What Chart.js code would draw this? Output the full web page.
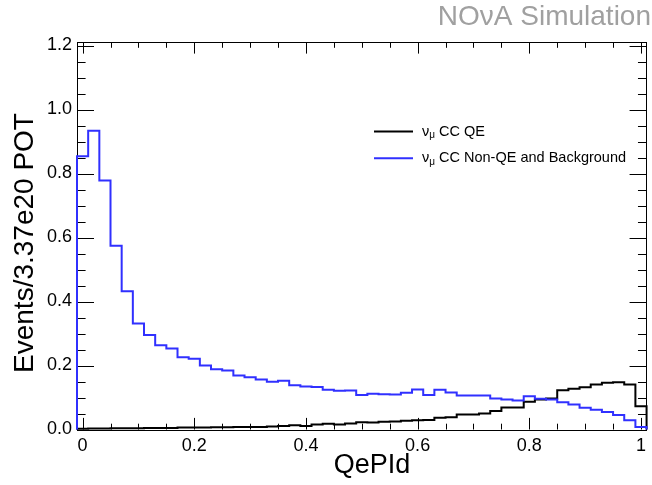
<!DOCTYPE html>
<html><head><meta charset="utf-8">
<script src="https://cdn.jsdelivr.net/npm/chart.js@4.4.0/dist/chart.umd.min.js"></script>
<style>html,body{margin:0;padding:0;background:#fff;overflow:hidden}canvas{display:block}</style>
</head><body>
<canvas id="c" width="652" height="485"></canvas>
<script>
const binCenters = [0.00,0.02,0.04,0.06,0.08,0.10,0.12,0.14,0.16,0.18,0.20,0.22,0.24,0.26,0.28,0.30,0.32,0.34,0.36,0.38,0.40,0.42,0.44,0.46,0.48,0.50,0.52,0.54,0.56,0.58,0.60,0.62,0.64,0.66,0.68,0.70,0.72,0.74,0.76,0.78,0.80,0.82,0.84,0.86,0.88,0.90,0.92,0.94,0.96,0.98,1.00];
const binWidth = 0.02;
const qeValues = [0.002,0.003,0.003,0.004,0.004,0.004,0.005,0.005,0.005,0.006,0.006,0.006,0.007,0.007,0.008,0.008,0.008,0.009,0.011,0.013,0.011,0.016,0.018,0.016,0.019,0.023,0.022,0.024,0.025,0.027,0.029,0.030,0.037,0.038,0.047,0.047,0.050,0.058,0.069,0.069,0.087,0.094,0.097,0.123,0.127,0.132,0.141,0.146,0.148,0.141,0.073];
const nonQeValues = [0.854,0.934,0.778,0.574,0.432,0.331,0.295,0.263,0.253,0.226,0.221,0.200,0.188,0.184,0.169,0.163,0.156,0.149,0.152,0.138,0.134,0.133,0.124,0.121,0.122,0.108,0.112,0.110,0.109,0.115,0.125,0.108,0.124,0.116,0.106,0.106,0.106,0.097,0.094,0.091,0.104,0.096,0.094,0.085,0.078,0.068,0.062,0.055,0.045,0.029,0.008];
const xTickValues = [0,0.2,0.4,0.6,0.8,1.0];
const xTickLabels = ['0','0.2','0.4','0.6','0.8','1'];
const yTickValues = [0,0.2,0.4,0.6,0.8,1.0,1.2];
const yTickLabels = ['0.0','0.2','0.4','0.6','0.8','1.0','1.2'];
const xTitle = 'QePId';
const yTitle = 'Events/3.37e20 POT';
const watermark = 'NO\u03bdA Simulation';
const seriesNames = [' CC QE',' CC Non-QE and Background'];
const seriesColors = ['#000000','#3030ff'];

const FONT = "'Liberation Sans', Arial, Helvetica, sans-serif";

function stepPoints(values){
  const pts=[];
  const lo0 = binCenters[0]-binWidth/2;
  pts.push({x:lo0,y:0});
  values.forEach((v,i)=>{
    const lo=binCenters[i]-binWidth/2, hi=binCenters[i]+binWidth/2;
    pts.push({x:lo,y:v}); pts.push({x:hi,y:v});
  });
  pts.push({x:binCenters[binCenters.length-1]+binWidth/2,y:0});
  return pts;
}

const framePlugin = {
  id:'frame',
  beforeDatasetsDraw(chart){
    const {ctx, chartArea:a, scales:{x,y}} = chart;
    ctx.save();
    ctx.strokeStyle='#000'; ctx.lineWidth=1;
    ctx.strokeRect(Math.round(a.left)+0.5, Math.round(a.top)+0.5, Math.round(a.right)-Math.round(a.left)-1, Math.round(a.bottom)-Math.round(a.top));
    ctx.beginPath();
    for(let k=0;k<=20;k++){
      const v=k*0.05; const px=Math.round(x.getPixelForValue(v))+0.5;
      const L = (k%4===0)?11.6:5.8;
      ctx.moveTo(px,a.bottom); ctx.lineTo(px,a.bottom-L);
      ctx.moveTo(px,a.top); ctx.lineTo(px,a.top+L);
    }
    for(let k=0;k<=24;k++){
      const v=k*0.05; const py=Math.round(y.getPixelForValue(v))+0.5;
      const L = (k%4===0)?17:8.6;
      ctx.moveTo(a.left,py); ctx.lineTo(a.left+L,py);
      ctx.moveTo(a.right,py); ctx.lineTo(a.right-L,py);
    }
    ctx.stroke();
    ctx.restore();
  },
  afterDraw(chart){
    const {ctx} = chart;
    ctx.save();
    ctx.fillStyle='#a0a0a0';
    ctx.font='28px '+FONT;
    ctx.textAlign='right'; ctx.textBaseline='middle';
    ctx.fillText(watermark, 651, 17);
    // axis titles
    ctx.fillStyle='#000';
    ctx.textAlign='center'; ctx.textBaseline='middle';
    ctx.font='27px '+FONT;
    ctx.fillText(xTitle, 372, 466);
    ctx.save();
    ctx.translate(25,243); ctx.rotate(-Math.PI/2);
    ctx.font='28px '+FONT;
    ctx.fillText(yTitle, 0, 0);
    ctx.restore();
    // legend
    const rows=[131.5,158.3];
    rows.forEach((ry,i)=>{
      ctx.strokeStyle=seriesColors[i]; ctx.lineWidth=2;
      ctx.beginPath(); ctx.moveTo(374,ry); ctx.lineTo(413,ry); ctx.stroke();
      ctx.fillStyle='#000'; ctx.textAlign='left'; ctx.textBaseline='middle';
      ctx.font='14.5px '+FONT;
      let tx=422;
      ctx.fillText('\u03bd',tx,ry); tx+=ctx.measureText('\u03bd').width;
      ctx.font='10px '+FONT;
      ctx.fillText('\u03bc',tx,ry+4); tx+=ctx.measureText('\u03bc').width;
      ctx.font='14.5px '+FONT;
      ctx.fillText(seriesNames[i],tx,ry);
    });
    ctx.restore();
  }
};

new Chart(document.getElementById('c'), {
  type:'line',
  data:{datasets:[
    {label:'QE', data:stepPoints(qeValues), borderColor:seriesColors[0], borderWidth:2, pointRadius:0, fill:false, tension:0, order:2, clip:false},
    {label:'NonQE', data:stepPoints(nonQeValues), borderColor:seriesColors[1], borderWidth:2, pointRadius:0, fill:false, tension:0, order:1, clip:false}
  ]},
  options:{
    responsive:false, animation:false, devicePixelRatio:1,
    layout:{padding:{left:0,right:1,top:42,bottom:0}},
    plugins:{legend:{display:false}, tooltip:{enabled:false}},
    scales:{
      x:{type:'linear', min:-0.01, max:1.01,
        afterBuildTicks(s){ s.ticks = xTickValues.map(v=>({value:v})); },
        afterFit(s){ s.height = 55.5; },
        grid:{display:false, drawTicks:false},
        border:{display:false},
        ticks:{color:'#000', font:{family:FONT,size:18}, padding:6, maxRotation:0, autoSkip:false,
          callback:(v,i)=>xTickLabels[i]},
        title:{display:false}
      },
      y:{type:'linear', min:0, max:1.211,
        afterBuildTicks(s){ s.ticks = yTickValues.map(v=>({value:v})); },
        afterFit(s){ s.width = 77; },
        grid:{display:false, drawTicks:false},
        border:{display:false},
        ticks:{color:'#000', font:{family:FONT,size:18}, padding:5, autoSkip:false,
          callback:(v,i)=>yTickLabels[i]},
        title:{display:false}
      }
    }
  },
  plugins:[framePlugin]
});
</script>
</body></html>
